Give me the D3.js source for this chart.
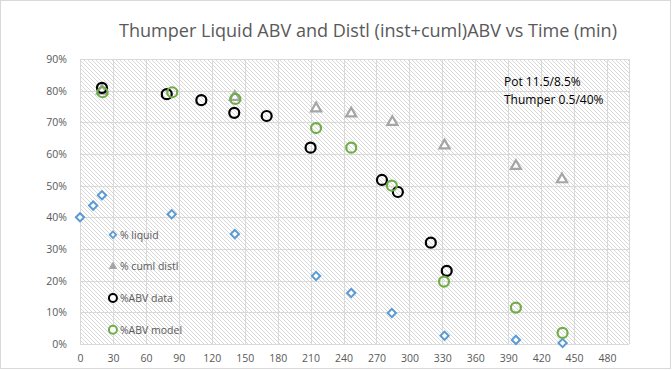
<!DOCTYPE html>
<html>
<head>
<meta charset="utf-8">
<script src="https://cdn.jsdelivr.net/npm/d3@7"></script>
<style>
  body { margin: 0; background: #fff; }
  svg { display: block; }
</style>
</head>
<body>
<svg id="chart" width="672" height="370"></svg>
<script>
// values
const xTicks = d3.range(0, 481, 30);
const yTicks = d3.range(0, 0.91, 0.1);

const liquidT   = [0, 12, 20, 83.5, 141, 215, 247, 284, 332, 397, 439.5];
const liquidAbv = [0.40, 0.437, 0.47, 0.41, 0.347, 0.215, 0.161, 0.098, 0.026, 0.013, 0.003];

const cumlT   = [20, 141, 215, 247, 284.5, 332, 397, 439];
const cumlAbv = [0.80, 0.78, 0.744, 0.728, 0.701, 0.627, 0.562, 0.52];

const dataT   = [20, 79, 110.5, 140.5, 170, 210, 275, 289.5, 319.5, 334];
const dataAbv = [0.809, 0.789, 0.77, 0.73, 0.72, 0.62, 0.518, 0.48, 0.32, 0.231];

const modelT   = [20.5, 84, 141.5, 215, 247, 284, 331.5, 397, 439.5];
const modelAbv = [0.795, 0.795, 0.774, 0.682, 0.62, 0.50, 0.197, 0.115, 0.035];

const legendNames = ["% liquid", "% cuml distl", "%ABV data", "%ABV model"];
const legendAt = [0.345, 0.245, 0.145, 0.045];

const svg = d3.select("#chart");
const mLeft = 80, mRight = 629, mTop = 59, mBottom = 344;

const x = d3.scaleLinear().domain([0, 500]).range([mLeft, mRight]);
const y = d3.scaleLinear().domain([0, 0.9]).range([mBottom, mTop]);

// chart border
svg.append("rect")
  .attr("x", 0.5).attr("y", 0.5)
  .attr("width", 670).attr("height", 368)
  .attr("fill", "#fff")
  .attr("stroke", "#d9d9d9");

// hatch pattern for plot area
const defs = svg.append("defs");
const pat = defs.append("pattern")
  .attr("id", "hatch")
  .attr("patternUnits", "userSpaceOnUse")
  .attr("width", 4).attr("height", 4);
pat.append("rect").attr("width", 4).attr("height", 4).attr("fill", "#fff");
pat.append("path")
  .attr("d", "M-1,-1L5,5M-1,3L1,5M3,-1L5,1")
  .attr("stroke", "#d4d4d4")
  .attr("stroke-width", 0.9);

svg.append("rect")
  .attr("x", mLeft).attr("y", mTop)
  .attr("width", mRight - mLeft).attr("height", mBottom - mTop)
  .attr("fill", "url(#hatch)");

// grid
svg.append("g")
  .selectAll("line")
  .data(yTicks)
  .join("line")
  .attr("x1", mLeft).attr("x2", mRight)
  .attr("y1", d => Math.round(y(d)) + 0.5)
  .attr("y2", d => Math.round(y(d)) + 0.5)
  .attr("stroke", "#d9d9d9");

svg.append("g")
  .selectAll("line")
  .data(xTicks.concat([500]))
  .join("line")
  .attr("y1", mTop).attr("y2", mBottom)
  .attr("x1", d => Math.round(x(d)) + 0.5)
  .attr("x2", d => Math.round(x(d)) + 0.5)
  .attr("stroke", "#d9d9d9");

// axes (labels only, lines hidden)
const yAxis = svg.append("g")
  .attr("transform", `translate(${mLeft - 10},0)`)
  .call(d3.axisLeft(y).tickValues(yTicks).tickFormat(d3.format(".0%")).tickSize(0));
yAxis.select(".domain").remove();

const xAxis = svg.append("g")
  .attr("transform", `translate(0,${mBottom + 8})`)
  .call(d3.axisBottom(x).tickValues(xTicks).tickSize(0));
xAxis.select(".domain").remove();

svg.selectAll(".tick text")
  .style("font-family", "'Open Sans', sans-serif")
  .style("font-size", "10.5px")
  .attr("fill", "#595959");

// title
svg.append("text")
  .attr("x", 368).attr("y", 37)
  .attr("text-anchor", "middle")
  .attr("textLength", 498)
  .attr("lengthAdjust", "spacingAndGlyphs")
  .style("font-family", "'Open Sans', sans-serif")
  .style("font-size", "18px")
  .attr("fill", "#595959")
  .text("Thumper Liquid ABV and Distl (inst+cuml)ABV vs Time (min)");

// markers
const diamond = d3.symbol().type(d3.symbolSquare).size(34);
const tri = d3.symbol().type(d3.symbolTriangle).size(44);

const plot = svg.append("g");

function zip(a, b) { return a.map((v, i) => [v, b[i]]); }

plot.append("g")
  .selectAll("path")
  .data(zip(liquidT, liquidAbv))
  .join("path")
  .attr("d", diamond)
  .attr("transform", d => `translate(${x(d[0])},${y(d[1])}) rotate(45)`)
  .attr("fill", "#fff")
  .attr("stroke", "#5b9bd5")
  .attr("stroke-width", 2);

plot.append("g")
  .selectAll("path")
  .data(zip(cumlT, cumlAbv))
  .join("path")
  .attr("d", tri)
  .attr("transform", d => `translate(${x(d[0])},${y(d[1])})`)
  .attr("fill", "#fff")
  .attr("stroke", "#a5a5a5")
  .attr("stroke-width", 2.2);

plot.append("g")
  .selectAll("circle")
  .data(zip(dataT, dataAbv))
  .join("circle")
  .attr("cx", d => x(d[0])).attr("cy", d => y(d[1]))
  .attr("r", 5)
  .attr("fill", "none")
  .attr("stroke", "#000")
  .attr("stroke-width", 2.2);

plot.append("g")
  .selectAll("circle")
  .data(zip(modelT, modelAbv))
  .join("circle")
  .attr("cx", d => x(d[0])).attr("cy", d => y(d[1]))
  .attr("r", 5)
  .attr("fill", "none")
  .attr("stroke", "#70ad47")
  .attr("stroke-width", 2.2);

// legend inside plot
const leg = svg.append("g");
const legX = x(30);
legendNames.forEach((name, i) => {
  const ly = y(legendAt[i]);
  const g = leg.append("g").attr("transform", `translate(${legX},${ly})`);
  if (i === 0) {
    g.append("path").attr("d", d3.symbol().type(d3.symbolSquare).size(20))
      .attr("transform", "rotate(45)")
      .attr("fill", "#fff").attr("stroke", "#5b9bd5").attr("stroke-width", 1.8);
  } else if (i === 1) {
    g.append("path").attr("d", d3.symbol().type(d3.symbolTriangle).size(22))
      .attr("fill", "#a5a5a5").attr("stroke", "#a5a5a5").attr("stroke-width", 1);
  } else {
    g.append("circle").attr("r", 4)
      .attr("fill", "#fff")
      .attr("stroke", i === 2 ? "#000" : "#70ad47")
      .attr("stroke-width", 2);
  }
  g.append("text")
    .attr("x", 7).attr("y", 4)
    .style("font-family", "'Open Sans', sans-serif")
    .style("font-size", "10.5px")
    .attr("fill", "#595959")
    .text(name);
});

// annotation
const note = svg.append("g")
  .style("font-family", "'Open Sans', sans-serif")
  .style("font-size", "12px")
  .attr("fill", "#000");
note.append("text").attr("x", 504).attr("y", 86).text("Pot 11.5/8.5%");
note.append("text").attr("x", 504).attr("y", 104).text("Thumper 0.5/40%");
</script>
</body>
</html>
